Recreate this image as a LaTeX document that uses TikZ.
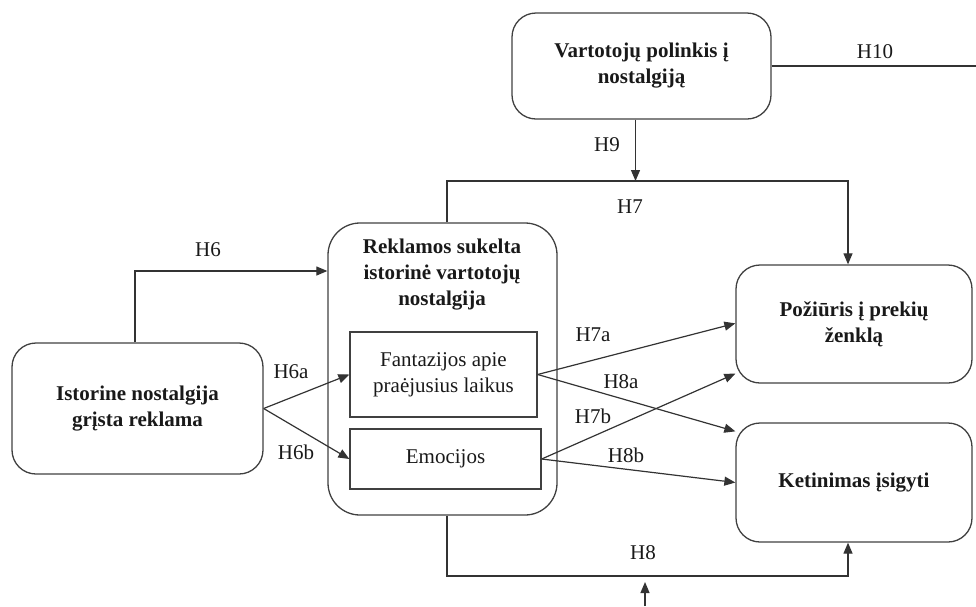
\documentclass[tikz,border=0pt]{standalone}
\usepackage{fontspec}
\setmainfont{Liberation Serif}
\usetikzlibrary{arrows.meta}
\begin{document}
\begin{tikzpicture}[x=1pt,y=-1pt,
  every node/.style={font=\fontsize{21}{26}\selectfont, text=black!90},
  box/.style={draw=black!75, line width=1.3pt, rounded corners=24pt, inner sep=0pt, align=center},
  inbox/.style={draw=black!75, line width=1.3pt, inner sep=0pt, align=center},
  conn/.style={draw=black!80, line width=1.2pt},
  arr/.style={conn, -{Triangle[length=11pt,width=9pt]}},
  hyp/.style={inner sep=0pt}]
\useasboundingbox (0,0) rectangle (976,606);

% constructs
\node[box, minimum width=259pt, minimum height=106pt] (pref) at (641.5,66)
  {\textbf{Vartotojų polinkis į}\\\textbf{nostalgiją}};
\node[box, minimum width=251pt, minimum height=131pt] (adv) at (137.5,408.5)
  {\textbf{Istorine nostalgija}\\\textbf{grįsta reklama}};
\node[box, rounded corners=32pt, minimum width=229pt, minimum height=292pt] (nost) at (442.5,369) {};
\node[align=center, font=\bfseries\fontsize{21}{26}\selectfont] (ttl) at (442,275)
  {Reklamos sukelta\\istorinė vartotojų\\nostalgija};
\node[inbox, minimum width=187pt, minimum height=85pt] (fant) at (443.5,374.5)
  {Fantazijos apie\\praėjusius laikus};
\node[inbox, minimum width=191pt, minimum height=60pt] (emo) at (445.5,459) {Emocijos};
\node[box, minimum width=236pt, minimum height=118pt] (att) at (854,324)
  {\textbf{Požiūris į prekių}\\\textbf{ženklą}};
\node[box, minimum width=236pt, minimum height=119pt] (intent) at (854,482.5)
  {\textbf{Ketinimas įsigyti}};

% bend points of the routed paths
\coordinate (h10end) at (976,66);
\coordinate (h6c) at (135,271);
\coordinate (h7l) at (447,181);
\coordinate (h7r) at (848,181);
\coordinate (h8l) at (447,576);
\coordinate (h8r) at (848,576);
\coordinate (bot) at (645,606);

% connectors
\draw[conn] (pref.east) -- (h10end);
\draw[arr] ([xshift=-6pt]pref.south) -- ([xshift=-6pt]pref.south |- h7l);
\draw[arr] (nost.north -| h7l) -- (h7l) -- (h7r) -- (att.north -| h7r);
\draw[arr] (adv.north -| h6c) -- (h6c) -- (nost.west |- h6c);
\draw[arr] (adv.east) -- (fant.west);
\draw[arr] (adv.east) -- (emo.west);
\draw[arr] (fant.east) -- ([yshift=-59pt]att.north west);
\draw[arr] (fant.east) -- ([yshift=-9pt]intent.north west);
\draw[arr] (emo.east) -- ([yshift=10pt]att.south west);
\draw[arr] (emo.east) -- (intent.west);
\draw[arr] (nost.south -| h8l) -- (h8l) -- (h8r) -- (intent.south -| h8r);
\draw[arr, shorten >=6pt] (bot) -- (bot |- h8l);

% hypothesis labels
\node[hyp] (l10) at (875,52) {H10};
\node[hyp] (l9) at (607,145) {H9};
\node[hyp] (l7) at (630,207) {H7};
\node[hyp] (l6) at (208,250) {H6};
\node[hyp] (l6a) at (291,372) {H6a};
\node[hyp] (l6b) at (296,452) {H6b};
\node[hyp] (l7a) at (593,335) {H7a};
\node[hyp] (l8a) at (621,382) {H8a};
\node[hyp] (l7b) at (593,416) {H7b};
\node[hyp] (l8b) at (626,455) {H8b};
\node[hyp] (l8) at (643,553) {H8};
\end{tikzpicture}
\end{document}
